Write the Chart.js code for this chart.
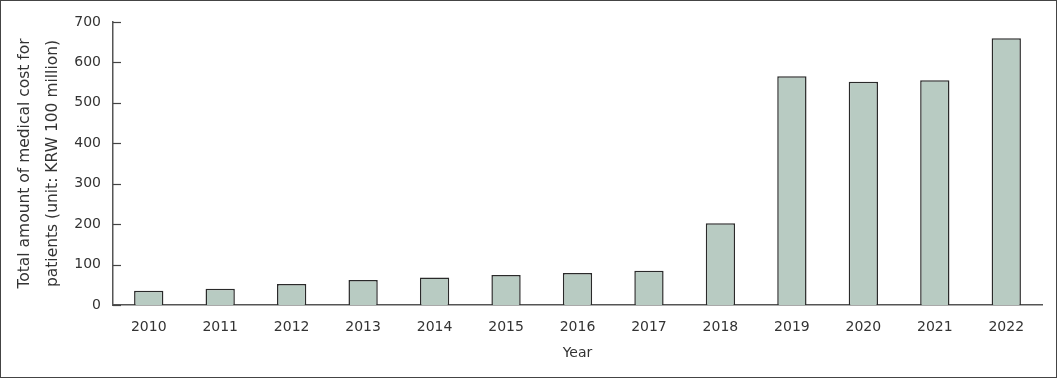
<!DOCTYPE html>
<html>
<head>
<meta charset="utf-8">
<script src="https://cdn.jsdelivr.net/npm/chart.js@4/dist/chart.umd.min.js"></script>
<style>
  html, body { margin: 0; padding: 0; background: #ffffff; }
  #frame { position: absolute; left: 0; top: 0; width: 1055px; height: 376px; border: 1px solid #444; background: #fff; }
  #wrap { position: absolute; left: 0; top: 0; width: 1055px; height: 376px; }
</style>
</head>
<body>
<div id="frame"><div id="wrap"><canvas id="c"></canvas></div></div>
<script>
const years = ['2010','2011','2012','2013','2014','2015','2016','2017','2018','2019','2020','2021','2022'];
const costValues = [35, 40, 52, 62, 68, 74, 79, 85, 202, 566, 552, 556, 660];
const yTicks = [0, 100, 200, 300, 400, 500, 600, 700];
const yTitle = ['Total amount of medical cost for', 'patients (unit: KRW 100 million)'];
const xTitle = 'Year';

const FONT = "'DejaVu Sans', sans-serif";
const TEXT = '#333333';

const innerTicks = {
  id: 'innerTicks',
  afterDatasetsDraw(chart) {
    const y = chart.scales.y, ctx = chart.ctx, left = chart.chartArea.left;
    ctx.save();
    ctx.strokeStyle = '#444';
    ctx.lineWidth = 1.2;
    yTicks.forEach(v => {
      const py = Math.round(y.getPixelForValue(v)) + 0.5;
      ctx.beginPath();
      ctx.moveTo(left, py);
      ctx.lineTo(left + 8, py);
      ctx.stroke();
    });
    ctx.restore();
  }
};

new Chart(document.getElementById('c'), {
  type: 'bar',
  data: {
    labels: years,
    datasets: [{
      data: costValues,
      backgroundColor: '#b8cbc2',
      borderColor: '#2a2a2a',
      borderWidth: 1.5,
      barPercentage: 0.41,
      categoryPercentage: 1.0
    }]
  },
  options: {
    responsive: true,
    maintainAspectRatio: false,
    animation: false,
    layout: { padding: { top: 21, right: 14, bottom: 15, left: 10 } },
    plugins: { legend: { display: false }, tooltip: { enabled: false } },
    scales: {
      x: {
        grid: { display: false, drawTicks: false },
        border: { display: true, color: '#555', width: 1.5 },
        ticks: { color: TEXT, font: { family: FONT, size: 14 }, padding: 14, maxRotation: 0 },
        title: { display: true, text: xTitle, color: TEXT, font: { family: FONT, size: 14 }, padding: { top: 4, bottom: 0 } },
        afterFit(scale) { scale.height = 57; }
      },
      y: {
        min: 0, max: 700,
        afterBuildTicks(scale) { scale.ticks = yTicks.map(v => ({ value: v })); },
        grid: { display: false, drawTicks: false },
        border: { display: true, color: '#555', width: 1.5 },
        ticks: { color: TEXT, font: { family: FONT, size: 14 }, padding: 12 },
        title: { display: true, text: yTitle, color: TEXT, font: { family: FONT, size: 15.5, lineHeight: 1.8 }, padding: { top: 0, bottom: 4 } },
        afterFit(scale) { scale.width = 102; }
      }
    }
  },
  plugins: [innerTicks]
});
</script>
</body>
</html>
